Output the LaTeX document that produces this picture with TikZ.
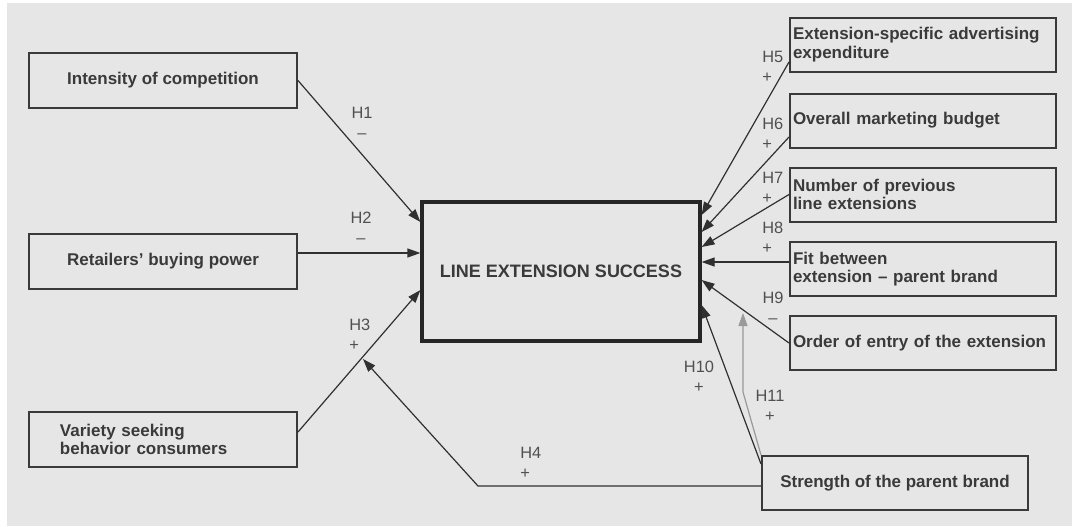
\documentclass[tikz,border=0pt]{standalone}
\usepackage{fontspec}
\setmainfont{Liberation Sans}
\usepackage{tikz}
\usetikzlibrary{arrows.meta}
\usepackage{xcolor}

\definecolor{bggray}{HTML}{E6E6E6}
\definecolor{boxgray}{HTML}{3A3A3A}
\definecolor{linegray}{HTML}{303030}
\definecolor{labgray}{HTML}{505050}
\definecolor{modgray}{HTML}{9A9A9A}
\newcommand{\factorfont}{\fontsize{8.5}{9.2}\selectfont\bfseries}
\newcommand{\successfont}{\fontsize{9}{10}\selectfont\bfseries}
\newcommand{\hypfont}{\fontsize{8.2}{10}\selectfont}

\begin{document}
\begin{tikzpicture}[x=0.5pt,y=-0.5pt,
	box/.style={draw=boxgray, line width=1pt, minimum width=134pt, minimum height=27.5pt, inner sep=0pt, font=\factorfont, text=boxgray},
	lbox/.style={text width=103pt, inner xsep=15.5pt, align=left},
	rbox/.style={minimum width=133pt, minimum height=27pt, text width=130pt, inner xsep=1.5pt, align=left},
	arr/.style={draw=linegray, line width=0.6pt, -{Triangle[length=6.5pt,width=4.5pt]}},
	hyp/.style={font=\hypfont, text=labgray, inner sep=0pt, align=center}]
					\useasboundingbox (0,0) rectangle (1072,526);
					\fill[bggray] (7,3) rectangle (1072,526);
					
					% left factors
					\node[box] (comp) at (163,80.5) {Intensity of competition};
					\node[box] (power) at (163,261) {Retailers’ buying power};
					\node[box, lbox] (variety) at (163,439.5) {Variety seeking\\behavior consumers};
					
					% dependent variable
					\node[draw=black!85, line width=1.6pt, minimum width=139pt, minimum height=69.5pt, font=\successfont, text=boxgray] (success) at (561,271.5) {LINE EXTENSION SUCCESS};
					
					% right factors
					\node[box, rbox] (adv) at (923,44.5) {Extension-specific advertising\\expenditure};
					\node[box, rbox] (budget) at (923,120.5) {Overall marketing budget};
					\node[box, rbox] (prev) at (923,194.5) {Number of previous\\line extensions};
					\node[box, rbox] (fit) at (923,269) {Fit between\\extension – parent brand};
					\node[box, rbox] (entry) at (923,343) {Order of entry of the extension};
					\node[box, minimum width=133pt, minimum height=27pt] (strength) at (895,483) {Strength of the parent brand};
					
					\coordinate (h4bend) at (478,486);
					\coordinate (h4tip) at (363,359);
					\coordinate (h11bend) at (743,392);
					\coordinate (h11tip) at (743,313);
					
					\draw[arr] (comp.east) -- ([yshift=24.75pt]success.west);
					\draw[arr] ([yshift=4pt]power.east) -- ([yshift=9.25pt]success.west);
					\draw[arr] ([yshift=3.75pt]variety.east) -- ([yshift=-9.25pt]success.west);
					\draw[arr] ([yshift=-1.5pt]strength.west) -- (h4bend) -- (h4tip);
					\draw[arr] ([yshift=-8.75pt]adv.west) -- ([yshift=28.25pt]success.east);
					\draw[arr] ([yshift=-8.25pt]budget.west) -- ([yshift=19.75pt]success.east);
					\draw[arr] (prev.west) -- ([yshift=12.25pt]success.east);
					\draw[arr] ([yshift=3.5pt]fit.west) -- ([yshift=4.75pt]success.east);
					\draw[arr] (entry.west) -- ([yshift=-4.25pt]success.east);
					\draw[arr] ([yshift=-4.5pt]strength.north west) -- ([yshift=-16.75pt]success.east);
					\draw[arr, draw=modgray] (strength.north west) -- (h11bend) -- (h11tip);
					%\draw[arr] (strength.north) -- (success.south);
					
					% hypotheses
					\node[hyp] (l1) at (362,123) {H1\\–};
					\node[hyp] (l2) at (361,228) {H2\\–};
					\node[hyp, anchor=west, align=left] (l3) at (349,334.5) {H3\\+};
					\node[hyp, anchor=west, align=left] (l4) at (520,463) {H4\\+};
					\node[hyp, anchor=west, align=left] (l5) at (762,67) {H5\\+};
					\node[hyp, anchor=west, align=left] (l6) at (762,134) {H6\\+};
					\node[hyp, anchor=west, align=left] (l7) at (762,187.5) {H7\\+};
					\node[hyp, anchor=west, align=left] (l8) at (762,238) {H8\\+};
					\node[hyp] (l9) at (773,307.5) {H9\\–};
					\node[hyp] (l10) at (699,376.5) {H10\\+};
					\node[hyp] (l11) at (770,405.5) {H11\\+};
				\end{tikzpicture}
\end{document}
